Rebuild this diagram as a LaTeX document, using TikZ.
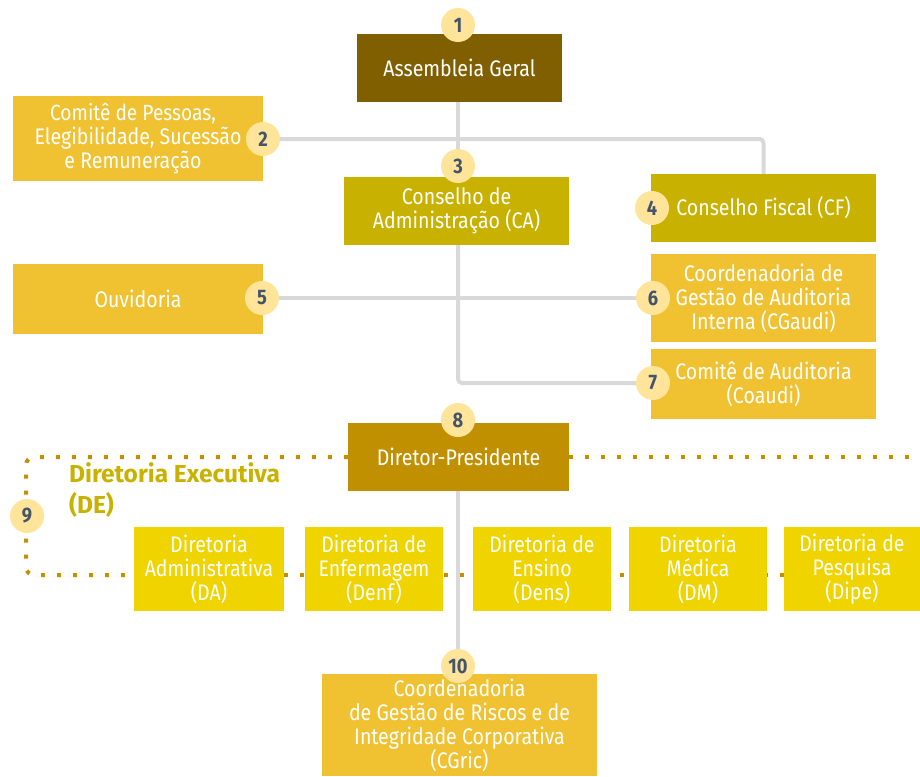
\documentclass[tikz,border=0pt]{standalone}
\usepackage{fontspec}
\setmainfont{Fira Sans}[FakeStretch=0.87]
\newfontfamily\defont{Fira Sans}
\usetikzlibrary{backgrounds,calc}
\definecolor{agcol}{HTML}{7F5F00}
\definecolor{cacol}{HTML}{C9B100}
\definecolor{ltcol}{HTML}{F0C232}
\definecolor{dpcol}{HTML}{C09000}
\definecolor{dircol}{HTML}{F0D400}
\definecolor{badgefill}{HTML}{FFE49A}
\definecolor{badgetext}{HTML}{44546A}
\definecolor{conncol}{HTML}{D9D9D9}
\definecolor{detext}{HTML}{C9B100}
\tikzset{
  box/.style={rectangle, inner sep=0pt, text=white, align=center,
    font=\fontsize{22.5}{24}\selectfont},
  badge/.style={circle, fill=badgefill, minimum size=34pt, inner sep=0pt,
    text=badgetext, font=\fontsize{21}{21}\selectfont\bfseries},
  conn/.style={draw=conncol, line width=4pt},
  dotline/.style={draw=dpcol, line width=4pt, dash pattern=on 4pt off 12pt}
}
\begin{document}
\begin{tikzpicture}[x=1pt,y=-1pt]
\useasboundingbox (0,0) rectangle (920,776);
% boxes
\node[box, fill=agcol, minimum width=205pt, minimum height=68pt] (AG) at (459.5,68) {Assembleia Geral};
\node[box, fill=ltcol, minimum width=250pt, minimum height=85pt] (CP) at (138,138.5) {\fontsize{22}{23.5}\selectfont Comitê de Pessoas,\hspace*{10pt}\\Elegibilidade, Sucessão\hspace*{10pt}\\e Remuneração\hspace*{10pt}};
\node[box, fill=cacol, minimum width=225pt, minimum height=68pt] (CA) at (456.5,211) {Conselho de\\Administração (CA)};
\node[box, fill=cacol, minimum width=225pt, minimum height=68pt] (CF) at (763.5,208) {Conselho Fiscal (CF)};
\node[box, fill=ltcol, minimum width=250pt, minimum height=70pt] (OUV) at (138,299) {Ouvidoria};
\node[box, fill=ltcol, minimum width=225pt, minimum height=88pt] (CG) at (763.5,298) {Coordenadoria de\\Gestão de Auditoria\\Interna (CGaudi)};
\node[box, fill=ltcol, minimum width=225pt, minimum height=70pt] (CO) at (763.5,384) {Comitê de Auditoria\\(Coaudi)};
\node[box, fill=dpcol, minimum width=221pt, minimum height=68pt] (DP) at (458.5,457) {Diretor-Presidente};
\node[box, fill=dircol, minimum width=150pt, minimum height=84pt] (DA) at (209,569) {Diretoria\\Administrativa\\(DA)};
\node[box, fill=dircol, minimum width=138pt, minimum height=84pt] (DEN) at (374,569) {Diretoria de\\Enfermagem\\(Denf)};
\node[box, fill=dircol, minimum width=138pt, minimum height=84pt] (DES) at (542,569) {Diretoria de\\Ensino\\(Dens)};
\node[box, fill=dircol, minimum width=138pt, minimum height=84pt] (DM) at (698,569) {Diretoria\\Médica\\(DM)};
\node[box, fill=dircol, minimum width=136pt, minimum height=84pt] (DIP) at (852,569) {Diretoria de\\Pesquisa\\(Dipe)};
\node[box, fill=ltcol, minimum width=275pt, minimum height=102pt] (CR) at (459.5,725) {Coordenadoria\\de Gestão de Riscos e de\\Integridade Corporativa\\(CGric)};
% label
\node[anchor=north west, inner sep=0pt, align=left, text=detext,
  font=\defont\fontsize{24.5}{31}\selectfont\bfseries] (DEL) at (69,462) {Diretoria Executiva\\(DE)};
% badges
\node[badge] (b1) at (458,25) {1};
\node[badge] (b2) at (263,139) {2};
\node[badge] (b3) at (458,166) {3};
\node[badge] (b4) at (652,208) {4};
\node[badge] (b5) at (262,298) {5};
\node[badge] (b6) at (653,298) {6};
\node[badge] (b7) at (653,383) {7};
\node[badge] (b8) at (458,420) {8};
\node[badge] (b9) at (27,516) {9};
\node[badge] (b10) at (458,666) {10};
% helper coordinates
\coordinate (dy) at (0,575);
\coordinate (re) at (920,457);
\coordinate (lx) at (26,0);
% connectors
\begin{scope}[on background layer]
\draw[conn] (AG.south -| b3) -- (b3);
\draw[conn, rounded corners=4pt] (b2) -- (b2 -| CF) -- (CF.north);
\draw[conn, rounded corners=4pt] (CA.south -| b3) -- (b3 |- b7) -- (b7);
\draw[conn] (b5) -- (b6);
\draw[conn] (DP.south -| b8) -- (b10);
\draw[dotline, rounded corners=8pt] (DP.west) -- (lx |- DP.west) -- (lx |- dy) -- (DA.west |- dy);
\draw[dotline] (DP.east) -- (re);
\draw[dotline] (DA.east |- dy) -- (DIP.west |- dy);
\end{scope}
\end{tikzpicture}
\end{document}
